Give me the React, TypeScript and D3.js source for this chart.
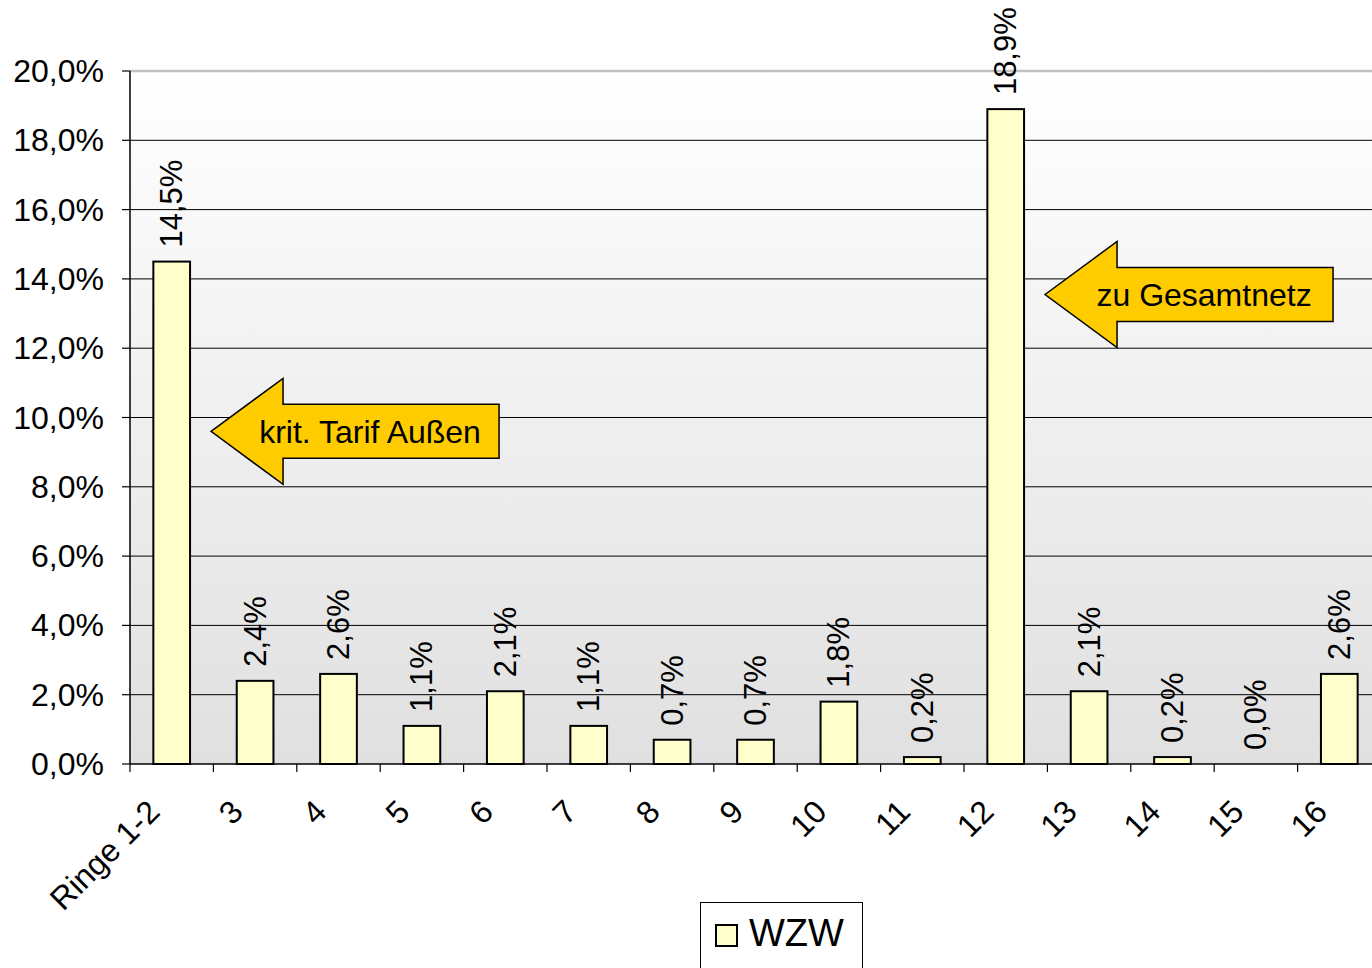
import React from "react";
import * as d3 from "d3";

const categories = ["Ringe 1-2", "3", "4", "5", "6", "7", "8", "9", "10", "11", "12", "13", "14", "15", "16"];
const values = [14.5, 2.4, 2.6, 1.1, 2.1, 1.1, 0.7, 0.7, 1.8, 0.2, 18.9, 2.1, 0.2, 0.0, 2.6];
const yTicks = [0, 2, 4, 6, 8, 10, 12, 14, 16, 18, 20];
const seriesName = "WZW";
const annotations = [
  { text: "krit. Tarif Außen", category: "Ringe 1-2", value: 9.6 },
  { text: "zu Gesamtnetz", category: "12", value: 13.55 },
];

const W = 1372;
const H = 968;
const FONT = "'Liberation Sans', Arial, Helvetica, sans-serif";
const fmt = (v: number) => v.toFixed(1).replace(".", ",") + "%";

export default function App() {
  const x = d3.scaleBand<string>().domain(categories).range([130, 1381]).padding(0);
  const y = d3.scaleLinear().domain([0, 20]).range([764, 71]);
  const bw = x.bandwidth() * 0.44;
  const [x0, x1] = x.range();
  const ticksX = categories.map((c) => x(c)!).concat([x1]);

  const arrowPath = (tx: number, ty: number) => {
    const headLen = 72, headH = 53, shaftH = 27, len = 288;
    return [
      [tx, ty],
      [tx + headLen, ty - headH],
      [tx + headLen, ty - shaftH],
      [tx + len, ty - shaftH],
      [tx + len, ty + shaftH],
      [tx + headLen, ty + shaftH],
      [tx + headLen, ty + headH],
    ]
      .map((p) => p.join(","))
      .join(" ");
  };

  return (
    <svg
      width={W}
      height={H}
      style={{ position: "absolute", left: 0, top: 0, background: "#fff" }}
      fontFamily={FONT}
    >
      <defs>
        <linearGradient id="bg" x1="0" y1="0" x2="0" y2="1">
          <stop offset="0" stopColor="#ffffff" />
          <stop offset="1" stopColor="#e0e0e0" />
        </linearGradient>
      </defs>
      <rect x={x0} y={y(20)} width={x1 - x0} height={y(0) - y(20)} fill="url(#bg)" />
      {/* gridlines */}
      {yTicks
        .filter((t) => t > 0 && t < 20)
        .map((t) => (
          <line key={t} x1={x0} x2={x1} y1={y(t)} y2={y(t)} stroke="#000" strokeWidth={1} />
        ))}
      <line x1={x0} x2={x1} y1={y(20)} y2={y(20)} stroke="#c0c0c0" strokeWidth={2.5} />
      {/* y axis */}
      <line x1={x0} x2={x0} y1={y(20)} y2={y(0)} stroke="#000" strokeWidth={1.5} />
      {yTicks.map((t) => (
        <g key={t}>
          <line x1={x0 - 8} x2={x0} y1={y(t)} y2={y(t)} stroke="#000" strokeWidth={1.2} />
          <text x={104} y={y(t)} textAnchor="end" dominantBaseline="central" fontSize={32} fill="#000">
            {fmt(t)}
          </text>
        </g>
      ))}
      {/* x axis */}
      <line x1={x0} x2={x1} y1={y(0)} y2={y(0)} stroke="#000" strokeWidth={1.5} />
      {ticksX.map((tx, i) => (
        <line key={i} x1={tx} x2={tx} y1={y(0)} y2={y(0) + 8} stroke="#000" strokeWidth={1.2} />
      ))}
      {categories.map((c) => {
        const cx = x(c)! + x.bandwidth() / 2;
        return (
          <text
            key={c}
            transform={`translate(${cx - 18},${806}) rotate(-45)`}
            textAnchor="end"
            dominantBaseline="central"
            fontSize={32}
            fill="#000"
          >
            {c}
          </text>
        );
      })}
      {/* bars */}
      {categories.map((c, i) => {
        const cx = x(c)! + x.bandwidth() / 2;
        const v = values[i];
        return (
          <g key={c}>
            {v > 0 && (
              <rect
                x={cx - bw / 2}
                y={y(v)}
                width={bw}
                height={y(0) - y(v)}
                fill="#FFFFCC"
                stroke="#000"
                strokeWidth={2}
              />
            )}
            <text
              transform={`translate(${cx},${y(v) - 14}) rotate(-90)`}
              textAnchor="start"
              dominantBaseline="central"
              fontSize={31}
              fill="#000"
            >
              {fmt(v)}
            </text>
          </g>
        );
      })}
      {/* annotations */}
      {annotations.map((a) => {
        const cx = x(a.category)! + x.bandwidth() / 2;
        const tx = cx + bw / 2 + 21;
        const ty = y(a.value);
        return (
          <g key={a.text}>
            <polygon points={arrowPath(tx, ty)} fill="#FFCC00" stroke="#000" strokeWidth={1.5} />
            <text x={tx + 159} y={ty + 12} textAnchor="middle" fontSize={32} fill="#000">
              {a.text}
            </text>
          </g>
        );
      })}
      {/* legend */}
      <rect x={700.5} y={902.5} width={162} height={80} fill="#fff" stroke="#000" strokeWidth={1} />
      <rect x={716} y={925} width={21} height={21} fill="#FFFFCC" stroke="#000" strokeWidth={2} />
      <text x={749} y={946} fontSize={38} fill="#000">
        {seriesName}
      </text>
    </svg>
  );
}
